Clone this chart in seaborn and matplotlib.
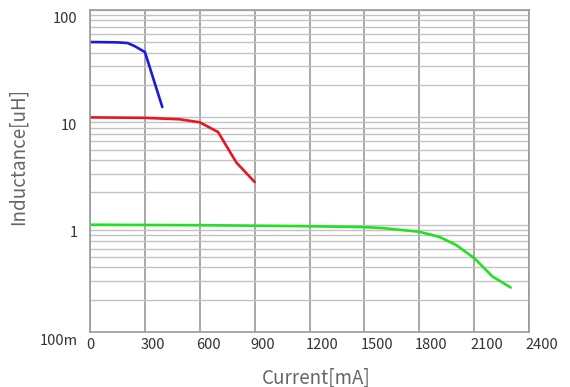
"""
Inductance vs. DC current curves (datasheet style, log y axis)
"""
import matplotlib
matplotlib.use('Agg')
import matplotlib.pyplot as plt
import matplotlib.transforms as mtransforms
from matplotlib.ticker import FixedLocator, LogLocator, NullFormatter
import seaborn as sns
import pandas as pd

# curves: current in mA, inductance in uH
blue_current = [0, 150, 205, 245, 300, 395]
blue_inductance = [50.4, 50.0, 49.3, 46.0, 40.6, 12.5]

red_current = [0, 300, 490, 600, 700, 800, 900]
red_inductance = [10.0, 9.9, 9.6, 9.0, 7.3, 3.8, 2.5]

green_current = [0, 600, 1150, 1500, 1600, 1800, 1910, 2000, 2100, 2200, 2300]
green_inductance = [1.0, 0.99, 0.97, 0.95, 0.93, 0.86, 0.77, 0.65, 0.49, 0.33, 0.26]

series_names = ['blue', 'red', 'green']
series_colors = ['#1a1ad8', '#e8161e', '#22e022']

x_ticks = [0, 300, 600, 900, 1200, 1500, 1800, 2100, 2400]
x_labels = [str(v) for v in x_ticks]
y_ticks = [0.1, 1, 10, 100]
y_labels = ['100m', '1', '10', '100']

# long table for seaborn
df = pd.concat([
    pd.DataFrame({'current': blue_current, 'inductance': blue_inductance, 'part': 'blue'}),
    pd.DataFrame({'current': red_current, 'inductance': red_inductance, 'part': 'red'}),
    pd.DataFrame({'current': green_current, 'inductance': green_inductance, 'part': 'green'}),
], ignore_index=True)

sns.set_style('white')
plt.rcParams['font.family'] = ['Noto Sans CJK JP', 'DejaVu Sans']

fig = plt.figure(figsize=(5.7, 3.87), dpi=100)
ax = fig.add_axes([0.158, 0.142, 0.770, 0.832])

sns.lineplot(
    data=df, x='current', y='inductance', hue='part',
    hue_order=series_names, palette=series_colors,
    estimator=None, sort=False, linewidth=1.9, legend=False, ax=ax
)

ax.set_yscale('log')
ax.set_xlim(0, 2400)
ax.set_ylim(0.1, 100)

ax.xaxis.set_major_locator(FixedLocator(x_ticks))
ax.set_xticklabels(x_labels)
ax.yaxis.set_major_locator(FixedLocator(y_ticks))
ax.set_yticklabels(y_labels)
ax.yaxis.set_minor_locator(LogLocator(base=10, subs=range(2, 10)))
ax.yaxis.set_minor_formatter(NullFormatter())

ax.set_axisbelow(True)
ax.grid(which='major', axis='x', color='#9a9a9a', linewidth=1.2)
ax.grid(which='both', axis='y', color='#c2c2c2', linewidth=1.0)
ax.tick_params(axis='both', which='both', length=0, labelsize=10.5, labelcolor='#333333')
ax.tick_params(axis='x', pad=4)
ax.tick_params(axis='y', pad=9)

for spine in ax.spines.values():
    spine.set_color('#9a9a9a')
    spine.set_linewidth(1.2)

# the scanned labels sit a little off the grid lines
for lbl in ax.get_xticklabels():
    lbl.set_horizontalalignment('left')
    lbl.set_transform(lbl.get_transform() + mtransforms.ScaledTranslation(-0.04, 0, fig.dpi_scale_trans))
for lbl in ax.get_yticklabels():
    lbl.set_transform(lbl.get_transform() + mtransforms.ScaledTranslation(0, -0.07, fig.dpi_scale_trans))

ax.set_xlabel('Current[mA]', fontsize=13.5, color='#666666')
ax.set_ylabel('Inductance[uH]', fontsize=13.5, color='#666666')
ax.xaxis.set_label_coords(0.515, -0.11)
ax.yaxis.set_label_coords(-0.14, 0.545)

fig.savefig('out.png', dpi=100)
plt.close(fig)
